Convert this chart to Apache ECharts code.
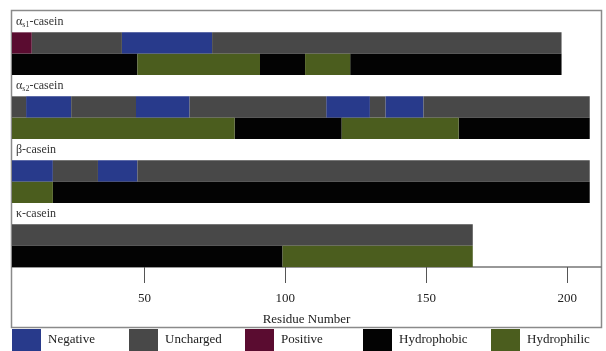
<!DOCTYPE html>
<html>
<head>
<meta charset="utf-8">
<script src="https://cdn.jsdelivr.net/npm/echarts@6/dist/echarts.min.js"></script>
<style>html,body{margin:0;padding:0;background:#fff}#c{width:606px;height:351px}</style>
</head>
<body>
<div id="c"></div>
<script>
// Rows of the chart (top to bottom): label band, charge row, hydropathy row per casein
const rows = [
  'as1-casein', 'as1-charge', 'as1-hydro',
  'as2-casein', 'as2-charge', 'as2-hydro',
  'b-casein', 'b-charge', 'b-hydro',
  'k-casein', 'k-charge', 'k-hydro'
];
const rowLabels = {
  'as1-casein': 'α{sub|s1}-casein',
  'as2-casein': 'α{sub|s2}-casein',
  'b-casein': 'β-casein',
  'k-casein': 'κ-casein'
};
// Segments: [row, startResidue, endResidue]
const negative = [
  ['as1-charge', 42, 74],
  ['as2-charge', 8, 24], ['as2-charge', 47, 66], ['as2-charge', 114.5, 130], ['as2-charge', 135.5, 149],
  ['b-charge', 3, 17.5], ['b-charge', 33.5, 47.5]
];
const uncharged = [
  ['as1-charge', 10, 42], ['as1-charge', 74, 198],
  ['as2-charge', 3, 8], ['as2-charge', 24, 47], ['as2-charge', 66, 114.5], ['as2-charge', 130, 135.5], ['as2-charge', 149, 208],
  ['b-charge', 17.5, 33.5], ['b-charge', 47.5, 208],
  ['k-charge', 3, 166.5]
];
const positive = [
  ['as1-charge', 3, 10]
];
const hydrophobic = [
  ['as1-hydro', 3, 47.5], ['as1-hydro', 91, 107], ['as1-hydro', 123, 198],
  ['as2-hydro', 82, 120], ['as2-hydro', 161.5, 208],
  ['b-hydro', 17.5, 208],
  ['k-hydro', 3, 99]
];
const hydrophilic = [
  ['as1-hydro', 47.5, 91], ['as1-hydro', 107, 123],
  ['as2-hydro', 3, 82], ['as2-hydro', 120, 161.5],
  ['b-hydro', 3, 17.5],
  ['k-hydro', 99, 166.5]
];
const xTicks = [50, 100, 150, 200];
const legendNames = ['Negative', 'Uncharged', 'Positive', 'Hydrophobic', 'Hydrophilic'];
const legendLeft = [12, 129, 245, 363, 491];

const series = [
  ['Negative', negative, '#283a8b'],
  ['Uncharged', uncharged, '#484848'],
  ['Positive', positive, '#5a0c30'],
  ['Hydrophobic', hydrophobic, '#030303'],
  ['Hydrophilic', hydrophilic, '#4b5d1e']
].map(([name, data, color]) => ({
  name: name,
  type: 'custom',
  color: color,
  encode: { x: [1, 2], y: 0 },
  data: data,
  renderItem: function (params, api) {
    const row = api.value(0);
    const s = api.coord([api.value(1), row]);
    const e = api.coord([api.value(2), row]);
    const h = api.size([0, 1])[1];
    return {
      type: 'rect',
      shape: { x: s[0], y: s[1] - h / 2, width: e[0] - s[0], height: h },
      style: { fill: color }
    };
  }
}));

const chart = echarts.init(document.getElementById('c'));
chart.setOption({
  animation: false,
  backgroundColor: '#fff',
  grid: { left: 12, right: 5, top: 11, bottom: 84 },
  graphic: [{
    type: 'rect', z: -1, silent: true,
    shape: { x: 11.5, y: 10.5, width: 590, height: 317 },
    style: { fill: 'none', stroke: '#8a8a8a', lineWidth: 1.5 }
  }],
  xAxis: {
    type: 'value', min: 3, max: 212,
    splitLine: { show: false },
    axisLine: { show: true, onZero: false, lineStyle: { color: '#777', width: 1.5 } },
    axisTick: { show: true, customValues: xTicks, length: 16, lineStyle: { color: '#555' } },
    axisLabel: { customValues: xTicks, margin: 25, color: '#222', fontFamily: 'Liberation Serif', fontSize: 13 },
    name: 'Residue Number', nameLocation: 'middle', nameGap: 46,
    nameTextStyle: { color: '#222', fontFamily: 'Liberation Serif', fontSize: 13 }
  },
  yAxis: {
    type: 'category', inverse: true, data: rows,
    axisLine: { show: false }, axisTick: { show: false },
    axisLabel: {
      inside: true, margin: 4, align: 'left', color: '#333',
      fontFamily: 'Liberation Serif', fontSize: 12,
      formatter: v => rowLabels[v] || '',
      rich: { sub: { fontSize: 8, padding: [6, 0, 0, 0], fontFamily: 'Liberation Serif', color: '#333' } }
    },
    z: 10
  },
  legend: legendNames.map((n, i) => ({
    bottom: 0, left: legendLeft[i], orient: 'horizontal', padding: 0,
    icon: 'rect', itemWidth: 29, itemHeight: 22,
    data: [n],
    textStyle: { fontFamily: 'Liberation Serif', fontSize: 13, color: '#222', padding: [0, 0, 0, 2] }
  })),
  series: series
});
</script>
</body>
</html>
